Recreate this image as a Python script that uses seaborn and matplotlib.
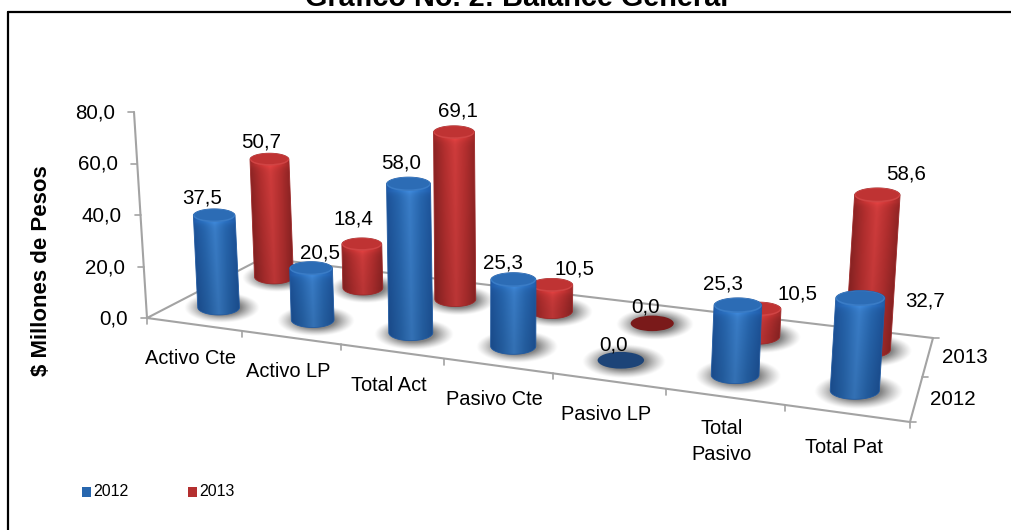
import numpy as np
import seaborn as sns
import matplotlib.pyplot as plt
from matplotlib.patches import Ellipse, Polygon

# Data

categories = ['Activo Cte', 'Activo LP', 'Total Act', 'Pasivo Cte', 'Pasivo LP', 'Total\nPasivo', 'Total Pat']
values_2012 = [37.5, 20.5, 58.0, 25.3, 0.0, 25.3, 32.7]
values_2013 = [50.7, 18.4, 69.1, 10.5, 0.0, 10.5, 58.6]
series_names = ['2012', '2013']
y_ticks = [0, 20, 40, 60, 80]

# Label nudges, px from the top of each cylinder

offsets_2012 = [(-12, -18), (9, -15), (-7, -21), (-10, -17), (-7, -15), (-15, -21), (65, 3)]
offsets_2013 = [(-8, -17), (-8, -25), (4, -21), (23, -16), (-7, -16), (39, -15), (29, -21)]

sns.set_theme(style='white')
plt.rcParams['font.family'] = ['Liberation Sans', 'DejaVu Sans']

blue_shades = np.array(sns.blend_palette(['#1d5399', '#2766ae', '#3a7ec9', '#2766ae', '#1d5399'], 41))
red_shades = np.array(sns.blend_palette(['#8e2424', '#b42f2f', '#d03c3c', '#b42f2f', '#8e2424'], 41))
gray = '#a3a3a3'

fig = plt.figure(figsize=(10.11, 5.30), dpi=100)
ax = fig.add_axes([0, 0, 1, 1])
ax.set_xlim(0, 1011)
ax.set_ylim(530, 0)
ax.set_autoscale_on(False)
ax.axis('off')

# Floor of the 3D box: homography from (category, depth) to the picture

n_cat = len(categories)
corners_from = [(0, 0), (n_cat, 0), (n_cat, 2), (0, 2)]
corners_to = [(147, 318), (910, 422), (933, 338), (263, 258)]
A = []
b = []
for (u, w), (X, Y) in zip(corners_from, corners_to):
    A.append([u, w, 1, 0, 0, 0, -u * X, -w * X])
    A.append([0, 0, 0, u, w, 1, -u * Y, -w * Y])
    b += [X, Y]
H = np.append(np.linalg.solve(np.array(A, float), np.array(b, float)), 1).reshape(3, 3)


def floor(u, w):
    p = H @ np.array([u, w, 1.0])
    return p[0] / p[2], p[1] / p[2]


def shadow(x0, y0, a, b0):
    rx = a * 1.8
    ry = b0 * 2.0
    xx, yy = np.meshgrid(np.arange(x0 - rx, x0 + rx, 0.5), np.arange(y0 - ry, y0 + ry, 0.5))
    r = np.sqrt(((xx - x0) / rx) ** 2 + ((yy - y0) / ry) ** 2)
    rgba = np.zeros(xx.shape + (4,))
    rgba[..., :3] = 0.35
    rgba[..., 3] = 0.75 * np.clip((1 - r) / 0.5, 0, 1) ** 1.2
    ax.imshow(rgba, extent=(x0 - rx, x0 + rx, y0 + ry, y0 - ry), origin='upper', aspect='auto',
              interpolation='bilinear', zorder=2)


def cylinder(i, depth, value, shades, cap_color, rim_color, disc_color):
    x0, y0 = floor(i + 0.5, depth)
    drift = 0.02 if depth < 1 else 0.008
    x0 += -6 + drift * max(0, x0 - 600)
    a = 19.6 + 0.045 * (y0 - 280)
    scale = 2.33 + 0.0044 * (y0 - 280)
    h = value * scale
    x1 = x0 + (x0 - 500) * 0.00017 * h
    y1 = y0 - h
    b0 = a * 0.36
    b1 = a * 0.32
    z = 3 + 0.01 * i + (1 - depth) * 0.5

    shadow(x0 + 3, y0 + 1, a, b0)

    if value == 0:
        ax.add_patch(Ellipse((x0, y0), 2 * a, 2 * b0, fc=disc_color, ec='none', zorder=z))
        return x0, y0

    # body as a smooth image clipped to the outline of the cylinder
    xl = min(x0, x1) - a - 2
    xr = max(x0, x1) + a + 2
    yt = y1 - 2
    yb = y0 + b0 + 2
    xx, yy = np.meshgrid(np.arange(xl, xr, 0.5), np.arange(yt, yb, 0.5))
    frac = (yy - y1) / max(h, 1)
    centre = x1 + (x0 - x1) * frac
    pos = np.clip(((xx - centre) / a + 1) / 2, 0, 1)
    rgb = np.stack([np.interp(pos, np.linspace(0, 1, 41), shades[:, k]) for k in range(3)], axis=-1)
    rgb = rgb * (1 + 0.12 * np.exp(-np.clip(yy - y1 - b1, 0, None) / 3.0) - 0.10 * np.clip(frac, 0, 1))[..., None]
    im = ax.imshow(np.clip(rgb, 0, 1), extent=(xl, xr, yb, yt), origin='upper', aspect='auto',
                   interpolation='bilinear', zorder=z)
    t = np.linspace(0, np.pi, 60)
    front = np.column_stack([x0 + a * np.cos(t), y0 + b0 * np.sin(t)])
    back = np.column_stack([x1 - a * np.cos(t), y1 - b1 * np.sin(t)])
    outline = Polygon(np.vstack([front, back]), closed=True, transform=ax.transData, fc='none', ec=shades[4], lw=0.6, zorder=z)
    ax.add_patch(outline)
    im.set_clip_path(outline)

    # cap with a small bevel
    ax.add_patch(Ellipse((x1, y1), 2 * a, 2 * b1, fc=rim_color, ec='none', zorder=z))
    ax.add_patch(Ellipse((x1, y1 - 0.6), 2 * a * 0.95, 2 * b1 * 0.84, fc=cap_color, ec='none', zorder=z))
    return x1, y1


# Frame, only top and left fall inside the crop

ax.plot([8, 8], [530, 12], color='black', lw=1.6, zorder=1)
ax.plot([8, 1011], [12, 12], color='black', lw=1.6, zorder=1)
ax.text(517, 6, 'Gráfico No. 2: Balance General', ha='center', va='baseline', fontsize=20.8, fontweight='bold', color='black')

# Box edges and ticks

outline_pts = [floor(0, 2), floor(0, 0), floor(n_cat, 0), floor(n_cat, 2), floor(0, 2)]
ax.plot(*zip(*outline_pts), color=gray, lw=1.5, zorder=1)
for i in range(n_cat + 1):
    x, y = floor(i, 0)
    ax.plot([x, x], [y, y + 6], color=gray, lw=1.2, zorder=1)
for w in [0, 1, 2]:
    x, y = floor(n_cat, w)
    ax.plot([x, x + 6], [y, y], color=gray, lw=1.2, zorder=1)

# Value axis

axis_x = 147
axis_y = 318
axis_scale = 2.575
top_v = y_ticks[-1]
ax.plot([axis_x, axis_x - 13], [axis_y, axis_y - top_v * axis_scale], color=gray, lw=1.5, zorder=1)
for v in y_ticks:
    x = axis_x - 13 * v / top_v
    y = axis_y - v * axis_scale
    ax.plot([x - 6, x], [y, y], color=gray, lw=1.2, zorder=1)
    ax.text(x - 19, y + 1, f'{v:.1f}'.replace('.', ','), ha='right', va='center', fontsize=14.8, color='black')

ax.text(42, 271, '$ Millones de Pesos', rotation=90, ha='center', va='center', fontsize=16, fontweight='bold', color='black')

# Category and series labels

for i, name in enumerate(categories):
    x, y = floor(i + 0.5, 0)
    multi = '\n' in name
    ax.text(x - 3, y + 34 + (11 if multi else 0), name, ha='center', va='center', fontsize=14.4, color='black', linespacing=1.45)
for j, name in enumerate(series_names):
    x, y = floor(n_cat, j + 0.5)
    ax.text(x + 14, y + 1, name, ha='left', va='center', fontsize=14.8, color='black')

# Cylinders, back row first

tops_2013 = [cylinder(i, 1.5, v, red_shades, '#bf3333', '#d04444', '#7a1a1a') for i, v in enumerate(values_2013)]
tops_2012 = [cylinder(i, 0.5, v, blue_shades, '#2c6cb5', '#3a7cc6', '#1d4478') for i, v in enumerate(values_2012)]

for tops, vals, offs in [(tops_2012, values_2012, offsets_2012), (tops_2013, values_2013, offsets_2013)]:
    for (x, y), v, (dx, dy) in zip(tops, vals, offs):
        ax.text(x + dx, y + dy, f'{v:.1f}'.replace('.', ','), ha='center', va='center', fontsize=14.8, color='black', zorder=6)

# Legend

for x, shades, name in [(82, blue_shades, series_names[0]), (188, red_shades, series_names[1])]:
    ax.add_patch(plt.Rectangle((x, 487), 9, 10, fc=shades[10], ec='none'))
    ax.text(x + 11, 491.5, name, ha='left', va='center', fontsize=11.5, color='black')

fig.savefig('out.png', dpi=100)
